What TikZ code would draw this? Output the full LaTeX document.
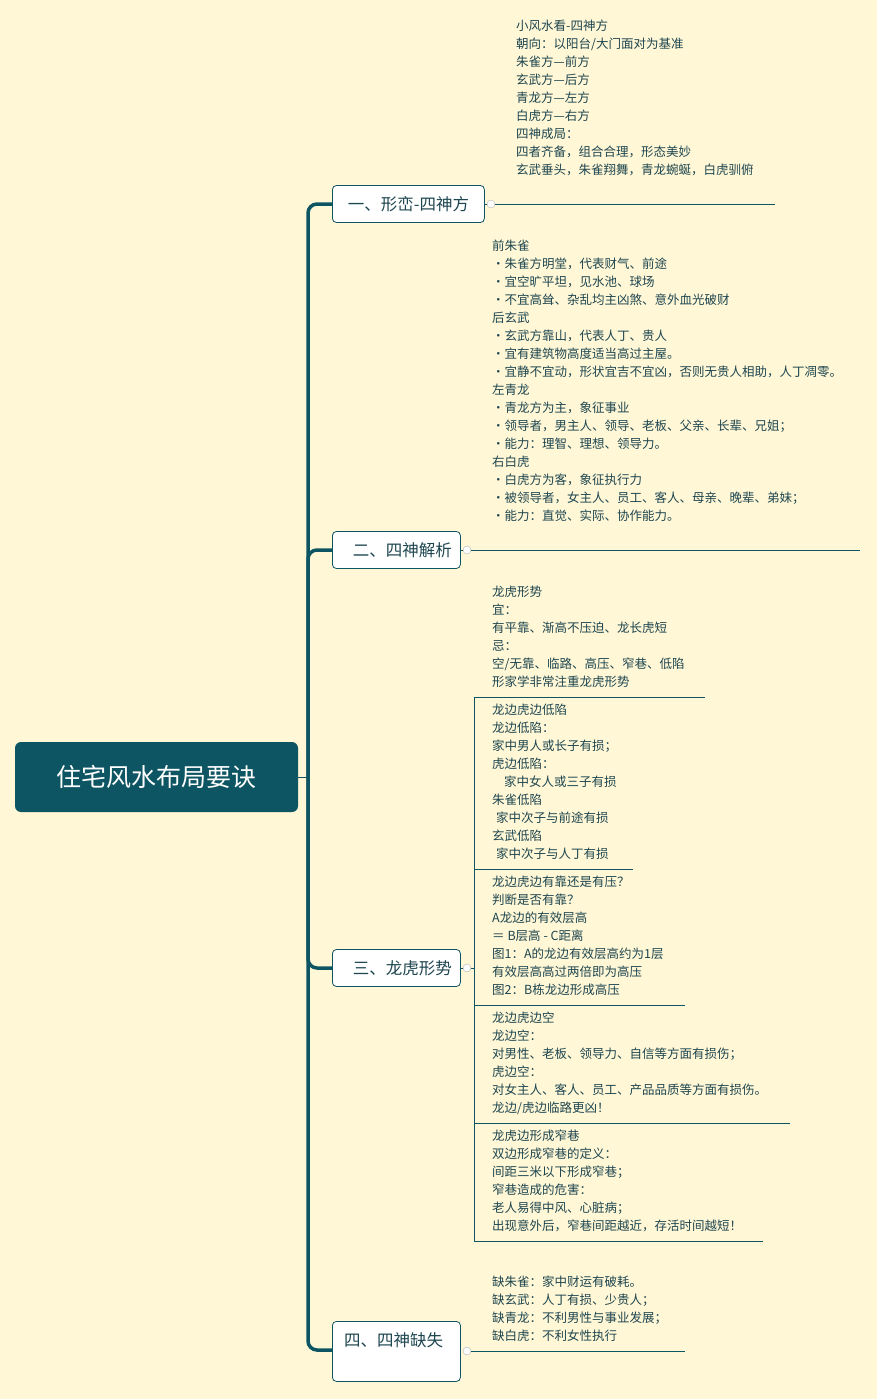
\documentclass[tikz,border=0pt]{standalone}
\usepackage{fontspec}
\setmainfont{Noto Sans CJK SC}
\definecolor{bg}{HTML}{FFF7D6}
\definecolor{teal}{HTML}{0E5563}
\definecolor{txt}{HTML}{1E4650}
\begin{document}
\begin{tikzpicture}[x=1pt,y=-1pt,
 lines/.style={anchor=north west,align=left,inner sep=0pt,text=txt,font=\fontsize{12.5}{18}\selectfont},
 branch/.style={draw=teal,fill=white,rounded corners=4pt,line width=0.8pt,text=txt,font=\fontsize{16.5}{20}\selectfont,anchor=west,inner sep=0pt},
 ul/.style={draw=teal,line width=0.8pt},
 spine/.style={draw=teal,line width=3.5pt,rounded corners=9pt},
 tog/.style={circle,draw=gray!60,fill=white,inner sep=0pt,minimum size=8pt}]
\fill[bg] (0,0) rectangle (877,1399);
\useasboundingbox (0,0) rectangle (877,1399);
% root
\node[fill=teal,rounded corners=6pt,minimum width=283pt,minimum height=70pt,text=white,font=\fontsize{25}{30}\selectfont,inner sep=0pt] (root) at (156.5,777) {住宅风水布局要诀};
\coordinate (hub) at (308,777);
\coordinate (w1) at (332,204);
\coordinate (w2) at (332,550);
\coordinate (w3) at (332,968);
\coordinate (w4) at (332,1350);
\draw[teal,line width=1pt] (root.east) -- (hub);
\draw[spine] (hub) |- (w1);
\draw[spine] (hub) |- (w2);
\draw[spine] (hub) |- (w3);
\draw[spine] (hub) |- (w4);
% branches
\node[branch,minimum width=152pt,minimum height=37pt] (b1) at (w1) {\hspace*{12pt}一、形峦-四神方\hspace*{12pt}};
\node[branch,minimum width=128pt,minimum height=37pt] (b2) at (w2) {\hspace*{12pt}二、四神解析};
\node[branch,minimum width=128pt,minimum height=37pt] (b3) at (w3) {\hspace*{12pt}三、龙虎形势};
\node[branch,minimum width=128pt,minimum height=60pt,anchor=north west] (b4) at (332,1321) {};
\node[text=txt,font=\fontsize{16.5}{20}\selectfont,inner sep=0pt,anchor=west] (b4t) at (344,1340) {四、四神缺失};
% branch 1
\coordinate (e1) at (775,204);
\draw[ul] (b1.east) -- (e1);
\node[tog] (t1) at (491,204) {};
\node[lines] (l1) at (516,20) {小风水看-四神方\\朝向：以阳台/大门面对为基准\\朱雀方—前方\\玄武方—后方\\青龙方—左方\\白虎方—右方\\四神成局：\\四者齐备，组合合理，形态美妙\\玄武垂头，朱雀翔舞，青龙蜿蜒，白虎驯俯};
% branch 2
\coordinate (e2) at (860,550);
\draw[ul] (b2.east) -- (e2);
\node[tog] (t2) at (467,550) {};
\node[lines] (l2) at (492,240) {前朱雀\\•朱雀方明堂，代表财气、前途\\•宜空旷平坦，见水池、球场\\•不宜高耸、杂乱均主凶煞、意外血光破财\\后玄武\\•玄武方靠山，代表人丁、贵人\\•宜有建筑物高度适当高过主屋。\\•宜静不宜动，形状宜吉不宜凶，否则无贵人相助，人丁凋零。\\左青龙\\•青龙方为主，象征事业\\•领导者，男主人、领导、老板、父亲、长辈、兄姐；\\•能力：理智、理想、领导力。\\右白虎\\•白虎方为客，象征执行力\\•被领导者，女主人、员工、客人、母亲、晚辈、弟妹；\\•能力：直觉、实际、协作能力。};
% branch 3
\coordinate (v0) at (474,697);
\coordinate (v1) at (474,869);
\coordinate (v2) at (474,1005);
\coordinate (v3) at (474,1123);
\coordinate (v4) at (474,1241);
\coordinate (v5) at (474,968);
\draw[ul] (b3.east) -- (v5);
\node[tog] (t3) at (467,968) {};
\draw[ul] (v0) -- (705,697);
\draw[ul] (v0) -- (v4);
\draw[ul] (v1) -- (633,869);
\draw[ul] (v2) -- (685,1005);
\draw[ul] (v3) -- (790,1123);
\draw[ul] (v4) -- (763,1241);
\node[lines] (s1) at (492,586) {龙虎形势\\宜：\\有平靠、渐高不压迫、龙长虎短\\忌：\\空/无靠、临路、高压、窄巷、低陷\\形家学非常注重龙虎形势};
\node[lines] (s2) at (492,704) {龙边虎边低陷\\龙边低陷：\\家中男人或长子有损；\\虎边低陷：\\\hspace*{12pt}家中女人或三子有损\\朱雀低陷\\\hspace*{4pt}家中次子与前途有损\\玄武低陷\\\hspace*{4pt}家中次子与人丁有损};
\node[lines] (s3) at (492,876) {龙边虎边有靠还是有压？\\判断是否有靠？\\A龙边的有效层高\\ ＝ B层高 - C距离\\图1：A的龙边有效层高约为1层\\有效层高高过两倍即为高压\\图2：B栋龙边形成高压};
\node[lines] (s4) at (492,1012) {龙边虎边空\\龙边空：\\对男性、老板、领导力、自信等方面有损伤；\\虎边空：\\对女主人、客人、员工、产品品质等方面有损伤。\\龙边/虎边临路更凶！};
\node[lines] (s5) at (492,1130) {龙虎边形成窄巷\\双边形成窄巷的定义：\\间距三米以下形成窄巷；\\窄巷造成的危害：\\老人易得中风、心脏病；\\出现意外后，窄巷间距越近，存活时间越短！};
% branch 4
\coordinate (e4) at (685,1351);
\node[tog] (t4) at (467,1351) {};
\draw[ul] (t4.east) -- (e4);
\node[lines] (l4) at (492,1276) {缺朱雀：家中财运有破耗。\\缺玄武：人丁有损、少贵人；\\缺青龙：不利男性与事业发展；\\缺白虎：不利女性执行};
\end{tikzpicture}
\end{document}
